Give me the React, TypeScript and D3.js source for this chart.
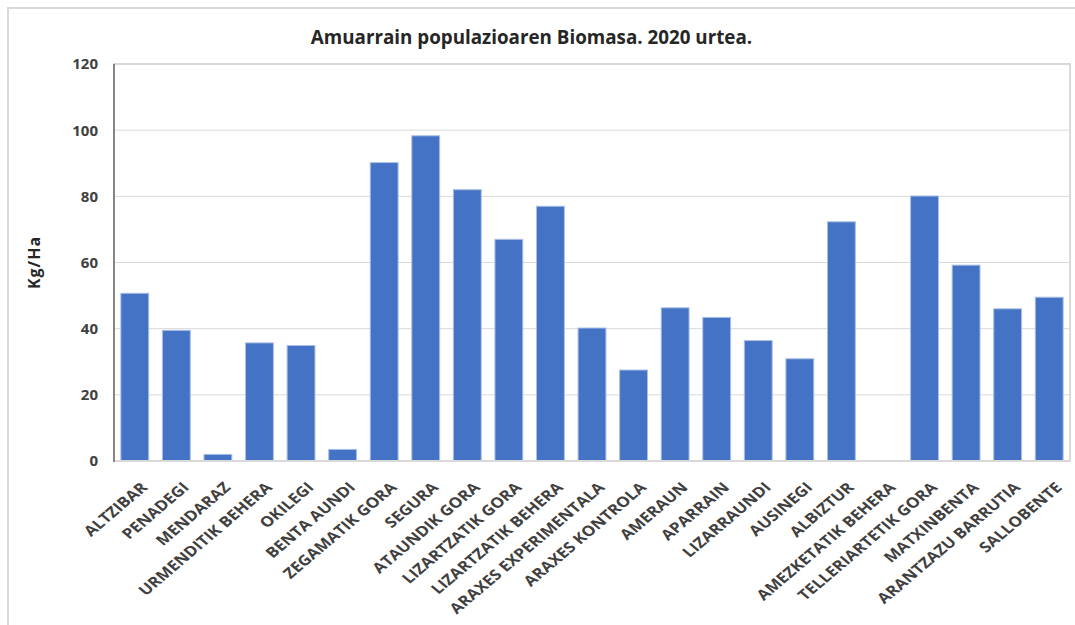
import React from "react";
import * as d3 from "d3";

const categories = [
  "ALTZIBAR", "PENADEGI", "MENDARAZ", "URMENDITIK BEHERA", "OKILEGI", "BENTA AUNDI",
  "ZEGAMATIK GORA", "SEGURA", "ATAUNDIK GORA", "LIZARTZATIK GORA", "LIZARTZATIK BEHERA",
  "ARAXES EXPERIMENTALA", "ARAXES KONTROLA", "AMERAUN", "APARRAIN", "LIZARRAUNDI",
  "AUSINEGI", "ALBIZTUR", "AMEZKETATIK BEHERA", "TELLERIARTETIK GORA", "MATXINBENTA",
  "ARANTZAZU BARRUTIA", "SALLOBENTE",
];
const values = [
  50.7, 39.5, 2.0, 35.7, 34.9, 3.5, 90.2, 98.3, 82.0, 67.0, 77.0,
  40.2, 27.5, 46.3, 43.4, 36.4, 30.9, 72.3, 0, 80.1, 59.2, 46.0, 49.5,
];
const yTicks = [0, 20, 40, 60, 80, 100, 120];
const title = "Amuarrain populazioaren Biomasa. 2020 urtea.";
const yLabel = "Kg/Ha";

const W = 1075, H = 625;
const left = 114, right = 1070, top = 64, bottom = 461;
const font = "'Open Sans', 'Noto Sans', sans-serif";

export default function App() {
  const x = d3.scaleBand<string>().domain(categories).range([left, right]).paddingInner(0.33).paddingOuter(0.165);
  const y = d3.scaleLinear().domain([0, 120]).range([bottom, top]);
  return (
    <svg width={W} height={H} style={{ position: "absolute", left: 0, top: 0, background: "#fff" }}>
      <rect x={8} y={8} width={W + 20} height={H + 20} fill="#fff" stroke="#d9d9d9" strokeWidth={2} />
      <text x={531.5} y={44} textAnchor="middle" fontFamily={font} fontWeight="bold" fontSize={18.8} fill="#262626">{title}</text>
      {yTicks.map((t) => (
        <g key={t}>
          {t > 0 && t < 120 && <line x1={left} x2={right} y1={y(t)} y2={y(t)} stroke="#d9d9d9" strokeWidth={1} />}
          <text x={98} y={y(t)} dy="0.36em" textAnchor="end" fontFamily={font} fontWeight="bold" fontSize={15} fill="#404040">{t}</text>
        </g>
      ))}
      <rect x={left} y={top} width={right - left} height={bottom - top} fill="none" stroke="#d9d9d9" strokeWidth={2} />
      {categories.map((c, i) => (
        values[i] > 0 ? (
          <rect key={c} x={x(c)!} y={y(values[i])} width={x.bandwidth()} height={bottom - y(values[i])}
            fill="#4472c4" stroke="#a9bfe6" strokeWidth={1} />
        ) : null
      ))}
      <line x1={left} x2={right} y1={bottom} y2={bottom} stroke="#d9d9d9" strokeWidth={2} />
      <line x1={left} x2={left} y1={top} y2={bottom + 1} stroke="#868686" strokeWidth={2} />
      <text transform={`translate(40,${(top + bottom) / 2}) rotate(-90)`} textAnchor="middle" fontFamily={font} fontWeight="bold" fontSize={16} letterSpacing={1} fill="#262626">{yLabel}</text>
      {categories.map((c) => {
        const cx = x(c)! + x.bandwidth() / 2 + 5;
        return (
          <text key={c} transform={`translate(${cx},${481}) scale(1.18,1) rotate(-45)`} textAnchor="end" dy="0.72em"
            fontFamily={font} fontWeight="bold" fontSize={14.5} fill="#404040">{c}</text>
        );
      })}
    </svg>
  );
}
